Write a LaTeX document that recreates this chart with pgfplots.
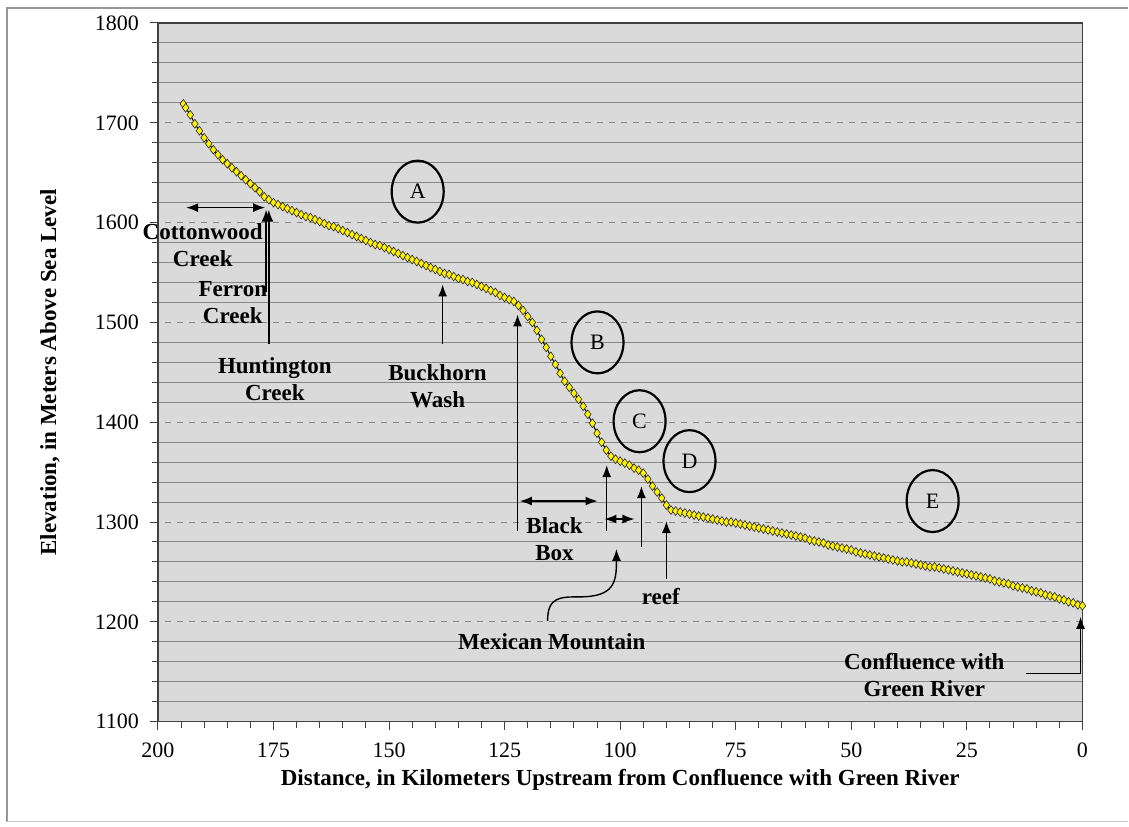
\documentclass[border=0pt]{standalone}
\usepackage{fontspec}
\setmainfont{Liberation Serif}
\usepackage{pgfplots}
\pgfplotsset{compat=1.18}
\usetikzlibrary{arrows.meta}

\definecolor{plotbg}{RGB}{218,218,218}
\definecolor{gridc}{RGB}{135,135,135}
\definecolor{framec}{RGB}{150,150,150}

\begin{document}
\begin{tikzpicture}[
  arr/.style={line width=0.7pt, -{Latex[length=6pt,width=4.5pt]}},
  darr/.style={line width=0.7pt, {Latex[length=6pt,width=4.5pt]}-{Latex[length=6pt,width=4.5pt]}},
  lab/.style={font=\fontsize{11.5}{13.5}\selectfont\bfseries, align=center},
  zone/.style={line width=1.1pt},
]
\begin{axis}[
  scale only axis,
  width=462.5pt, height=349.5pt,
  xmin=0, xmax=200, ymin=1100, ymax=1800,
  x dir=reverse,
  xtick={0,25,...,200},
  minor x tick num=4,
  ytick={1100,1200,...,1800},
  minor y tick num=4,
  tick align=outside,
  major tick length=4pt, minor tick length=3pt,
  xtick pos=bottom, ytick pos=left,
  axis background/.style={fill=plotbg},
  axis line style={black!75, line width=0.8pt},
  ymajorgrids, yminorgrids,
  major grid style={gridc, dashed, line width=0.5pt},
  minor grid style={gridc, line width=0.5pt},
  tick style={black!75, line width=0.5pt},
  /pgf/number format/assume math mode=true,
  /pgf/number format/set thousands separator={},
  ticklabel style={font=\fontsize{11}{13}\selectfont},
  yticklabel style={xshift=-2pt},
  xticklabel style={yshift=-3pt},
  xlabel={Distance, in Kilometers Upstream from Confluence with Green River},
  ylabel={Elevation, in Meters Above Sea Level},
  every axis x label/.style={at={(axis description cs:0.5,0)}, anchor=center, yshift=-29pt, font=\fontsize{11.5}{13}\selectfont\bfseries},
  every axis y label/.style={at={(axis description cs:0,0.5)}, anchor=center, rotate=90, yshift=54pt, font=\fontsize{11.5}{13}\selectfont\bfseries},
  clip=false,
]
\addplot[black, line width=0.5pt, mark=diamond*, mark size=2.2pt,
  mark options={fill=yellow, draw=black!85, line width=0.3pt}]
table {
x y
194.5 1719
194 1715
193 1708
192 1699
191 1692
190 1685
189 1679
188 1673
187 1668
186 1663
185 1659
184 1655
183 1651
182 1647
181 1643
180 1639
179 1635
178 1631
177 1626
176 1623
175 1620
174 1618
173 1616
172 1614
171 1612
170 1610
169 1608
168 1606
167 1605
166 1603
165 1601
164 1599
163 1597
162 1596
161 1594
160 1592
159 1590
158 1588
157 1586
156 1584
155 1582
154 1580
153 1578
152 1577
151 1575
150 1573
149 1571
148 1569
147 1567
146 1565
145 1563
144 1561
143 1559
142 1557
141 1555
140 1553
139 1551
138 1549
137 1548
136 1546
135 1544
134 1543
133 1541
132 1540
131 1538
130 1536
129 1534
128 1532
127 1530
126 1527
125 1525
124 1523
123 1521
122 1517
121 1512
120 1506
119 1500
118 1492
117 1483
116 1475
115 1466
114 1458
113 1449
112 1441
111 1435
110 1429
109 1423
108 1416
107 1408
106 1399
105 1389
104 1380
103 1372
102 1366
101 1363
100 1361
99 1359
98 1357
97 1354
96 1352
95 1349
94 1343
93 1336
92 1330
91 1324
90 1317
89 1312
88 1311
87 1310
86 1309
85 1308
84 1307
83 1306
82 1305
81 1304
80 1303
79 1302
78 1301
77 1300
76 1300
75 1299
74 1298
73 1297
72 1296
71 1295
70 1294
69 1293
68 1292
67 1291
66 1290
65 1289
64 1288
63 1287
62 1286
61 1285
60 1284
59 1282
58 1281
57 1280
56 1279
55 1277
54 1276
53 1275
52 1274
51 1273
50 1272
49 1270
48 1269
47 1268
46 1267
45 1266
44 1265
43 1264
42 1263
41 1262
40 1261
39 1260
38 1260
37 1259
36 1258
35 1257
34 1256
33 1255
32 1255
31 1254
30 1253
29 1252
28 1251
27 1250
26 1249
25 1248
24 1247
23 1246
22 1245
21 1244
20 1243
19 1241
18 1240
17 1239
16 1238
15 1236
14 1235
13 1234
12 1233
11 1231
10 1230
9 1229
8 1227
7 1226
6 1225
5 1223
4 1222
3 1220
2 1219
1 1217
0 1216
};

% zone circles
\draw[zone] (axis cs:143.8,1631) ellipse [x radius=13pt, y radius=15.5pt];
\node[font=\fontsize{11}{13}\selectfont] at (axis cs:143.8,1631) {A};
\draw[zone] (axis cs:104.9,1480) ellipse [x radius=13pt, y radius=15.5pt];
\node[font=\fontsize{11}{13}\selectfont] at (axis cs:104.9,1480) {B};
\draw[zone] (axis cs:95.8,1401) ellipse [x radius=13pt, y radius=15.5pt];
\node[font=\fontsize{11}{13}\selectfont] at (axis cs:95.8,1401) {C};
\draw[zone] (axis cs:85.0,1361) ellipse [x radius=13pt, y radius=15.5pt];
\node[font=\fontsize{11}{13}\selectfont] at (axis cs:85.0,1361) {D};
\draw[zone] (axis cs:32.4,1321) ellipse [x radius=13pt, y radius=15.5pt];
\node[font=\fontsize{11}{13}\selectfont] at (axis cs:32.4,1321) {E};

% tributaries
\draw[darr] (axis cs:193.9,1615) -- (axis cs:176.8,1615);
\node[lab] at (axis cs:190.3,1577) {Cottonwood\\Creek};
\draw[arr] (axis cs:176.6,1530) -- (axis cs:176.6,1613);
\draw[arr] (axis cs:176.0,1478) -- (axis cs:176.0,1613);
\node[lab] at (axis cs:183.8,1519.5) {Ferron\\Creek};
\node[lab] at (axis cs:174.7,1443) {Huntington\\Creek};
\draw[arr] (axis cs:138.4,1478) -- (axis cs:138.4,1538);
\node[lab] at (axis cs:139.5,1436.5) {Buckhorn\\Wash};

% Black Box
\draw[arr] (axis cs:122.2,1291) -- (axis cs:122.2,1508);
\draw[darr] (axis cs:121.7,1321) -- (axis cs:104.9,1321);
\draw[arr] (axis cs:102.9,1291) -- (axis cs:102.9,1357);
\draw[darr] (axis cs:103.4,1303) -- (axis cs:96.9,1303);
\node[lab] at (axis cs:114.2,1283) {Black\\Box};

% Mexican Mountain
\draw[arr] (axis cs:95.4,1275) -- (axis cs:95.4,1336);
\draw[arr] (axis cs:115.7,1201) .. controls (axis cs:115.7,1225) and (axis cs:113,1225) .. (axis cs:108.8,1225)
  .. controls (axis cs:101.2,1225) and (axis cs:100.8,1240) .. (axis cs:100.8,1273);
\node[lab] at (axis cs:114.8,1180) {Mexican Mountain};

% reef
\draw[arr] (axis cs:90.0,1243) -- (axis cs:90.0,1301);
\node[lab] at (axis cs:91.2,1225) {reef};

% confluence
\draw[arr] (axis cs:12.1,1148) -- (axis cs:0.4,1148) -- (axis cs:0.4,1205);
\node[lab] at (axis cs:34.2,1146.5) {Confluence with\\Green River};
\end{axis}

% chart frame
\draw[framec, line width=0.6pt] (-75.5pt,-50pt) -- (-75.5pt,357pt) -- (485.5pt,357pt);
\draw[framec!50, line width=0.5pt] (-75.5pt,-50pt) -- (485.5pt,-50pt);
\useasboundingbox (-79pt,-52.5pt) rectangle (485.5pt,361pt);
\end{tikzpicture}
\end{document}
